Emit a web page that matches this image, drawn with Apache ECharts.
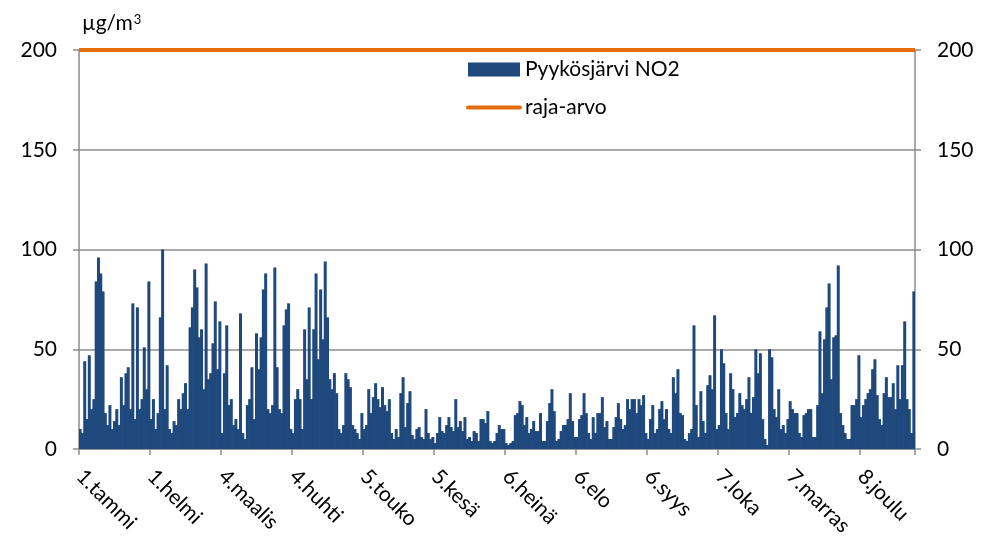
<!DOCTYPE html>
<html><head><meta charset="utf-8">
<script src="https://cdn.jsdelivr.net/npm/echarts@6/dist/echarts.min.js"></script>
<style>html,body{margin:0;padding:0;background:#fff}#c{width:995px;height:547px}</style>
</head><body><div id="c"></div>
<script>
// x-axis tick labels (every 31 days)
const tickLabels = ['1.tammi','1.helmi','4.maalis','4.huhti','5.touko','5.kesä','6.heinä','6.elo','6.syys','7.loka','7.marras','8.joulu'];
// daily peak NO2 values (µg/m³)
const no2Q1 = [10,8,44,15,47,20,25,84,96,88,
 79,18,12,22,10,14,20,12,36,22,
 38,41,20,73,15,71,20,25,51,30,
 84,15,25,10,18,66,100,20,42,10,
 8,14,12,25,20,28,33,20,61,71,
 90,81,56,60,30,93,35,38,53,74,
 40,64,8,38,62,22,25,12,15,10,
 68,8,5,22,25,41,15,58,40,56,
 80,88,20,18,22,91,41,20,18,62];
const no2Q2 = [70,73,10,8,25,30,25,10,60,35,
 71,25,60,88,45,80,55,94,66,35,
 30,38,28,10,8,12,38,35,31,12,
 10,8,5,18,10,12,30,18,26,33,
 25,21,31,22,19,25,8,5,10,6,
 28,36,11,23,29,7,5,10,11,6,
 5,20,8,5,6,3,8,16,9,8,
 12,16,11,9,25,11,14,9,16,5,
 6,4,9,8,4,15,15,13,19,4,
 3];
const no2Q3 = [4,8,12,10,10,3,2,3,4,17,
 18,24,22,12,16,8,10,14,9,9,
 18,4,4,14,23,30,19,4,5,9,
 12,12,15,28,14,6,6,15,17,28,
 18,8,5,16,8,18,18,26,11,14,
 5,5,11,16,23,15,10,12,25,20,
 25,25,18,25,22,27,8,5,15,22,
 8,10,20,24,15,20,10,8,36,28,
 40,18,17,5,4,8,10,62,22,6,
 29,14];
const no2Q4 = [8,32,37,30,67,10,12,50,43,18,
 10,38,30,16,18,28,22,20,25,36,
 18,26,50,38,48,15,5,2,50,46,
 20,16,30,10,12,8,15,24,20,18,
 18,8,6,17,18,20,20,6,6,22,
 59,28,55,71,83,35,56,57,92,18,
 12,8,5,5,22,22,25,47,16,22,
 25,28,30,40,45,27,15,12,28,36,
 26,26,33,20,42,25,42,64,25,20,
 8,79];
const limitValue = 200;

const no2 = [].concat(no2Q1, no2Q2, no2Q3, no2Q4);
const days = no2.map((v, i) => i);

const FONT = 'Lato';
const FS = 21;
const GRAY = '#8c8c8c';
const ORANGE = '#E46C0A';
const chart = echarts.init(document.getElementById('c'), null, {renderer: 'canvas'});
const yAxisCommon = {
  type: 'value', min: 0, max: 200, interval: 50,
  axisLine: {show: true, lineStyle: {color: GRAY, width: 1.5}},
  axisTick: {show: true, length: 6, lineStyle: {color: GRAY, width: 1.5}},
  axisLabel: {margin: 22, fontFamily: FONT, fontSize: FS, color: '#000'}
};
chart.setOption({
  animation: false,
  grid: {left: 79, right: 80, top: 50, bottom: 98},
  graphic: [{type: 'text', left: 82, top: 13, style: {
    text: '{a|µg/m}{b|3}', fill: '#000',
    rich: {a: {fontFamily: FONT, fontSize: FS, fill: '#000'}, b: {fontFamily: FONT, fontSize: 13, fill: '#000', verticalAlign: 'top', padding: [0, 0, 0, 1]}}
  }}],
  legend: {
    orient: 'vertical', left: 466, top: 59, padding: 0, itemWidth: 52, itemHeight: 14, itemGap: 17,
    textStyle: {fontFamily: FONT, fontSize: FS, color: '#000'},
    data: [
      {name: 'Pyykösjärvi NO2', icon: 'rect'},
      {name: 'raja-arvo', itemStyle: {opacity: 0}, lineStyle: {color: ORANGE, width: 4, cap: 'round', opacity: 1}}
    ]
  },
  xAxis: {
    type: 'category', data: days, boundaryGap: true,
    axisLine: {lineStyle: {color: GRAY, width: 1.5}},
    axisTick: {show: true, interval: 30, length: 6, lineStyle: {color: GRAY, width: 1.5}},
    axisLabel: {
      interval: 30, rotate: -45, margin: 24, fontFamily: FONT, fontSize: FS, color: '#000',
      formatter: (v, i) => tickLabels[i / 31] || ''
    },
    splitLine: {show: false}
  },
  yAxis: [
    Object.assign({}, yAxisCommon, {position: 'left', splitLine: {show: true, lineStyle: {color: GRAY, width: 1.5}}}),
    Object.assign({}, yAxisCommon, {position: 'right', splitLine: {show: false}})
  ],
  series: [
    {type: 'bar', name: 'Pyykösjärvi NO2', data: no2, barWidth: 3, itemStyle: {color: '#1F497D'}},
    {type: 'line', name: 'raja-arvo', data: [], color: ORANGE, symbol: 'none',
     lineStyle: {color: ORANGE, width: 4},
     markLine: {silent: true, symbol: 'none', label: {show: false},
       lineStyle: {color: ORANGE, width: 4, type: 'solid'}, data: [{yAxis: limitValue}]}}
  ]
});
</script></body></html>
